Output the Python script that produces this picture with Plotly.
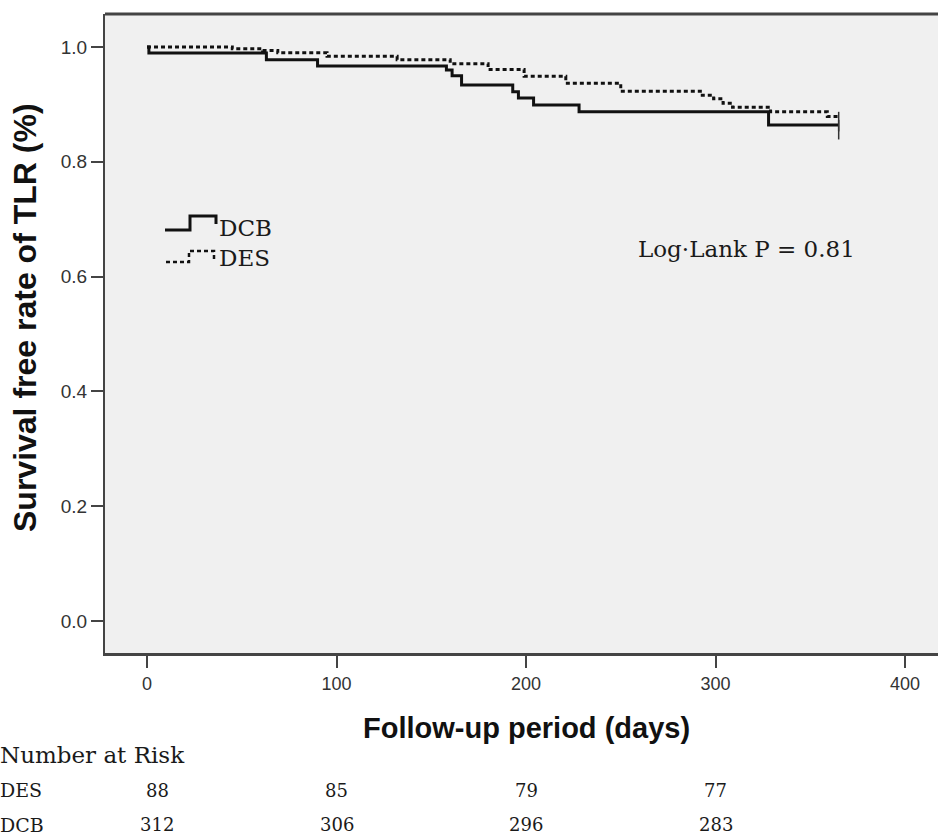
import plotly.graph_objects as go

# ---------------- data ----------------
dcb_days = [0, 1, 63, 90, 158, 161, 166, 193, 196, 204, 228, 328, 365]
dcb_surv = [1.000, 0.9895, 0.978, 0.967, 0.960, 0.950, 0.934, 0.922, 0.911, 0.899, 0.887, 0.864, 0.864]

des_days = [0, 45, 61, 69, 95, 132, 160, 180, 199, 221, 250, 292, 299, 304, 309, 329, 359, 365]
des_surv = [1.000, 0.997, 0.994, 0.990, 0.984, 0.978, 0.971, 0.961, 0.949, 0.937, 0.923, 0.916,
            0.910, 0.902, 0.895, 0.887, 0.879, 0.876]

risk_days = [0, 100, 200, 300]
risk_des = [88, 85, 79, 77]
risk_dcb = [312, 306, 296, 283]

x_ticks = [0, 100, 200, 300, 400]
y_ticks = [0.0, 0.2, 0.4, 0.6, 0.8, 1.0]

# ---------------- layout helpers (pixel -> paper) ----------------
W, H = 938, 837
L, R, T, B = 105, 0, 14, 184
PW, PH = W - L - R, H - T - B


def px(x):
    return (x - L) / PW


def py(y):
    return (H - B - y) / PH


SERIF = "DejaVu Serif"
SANS = "Liberation Sans, Arial, sans-serif"

fig = go.Figure()

fig.add_trace(go.Scatter(
    x=dcb_days, y=dcb_surv, mode="lines", line=dict(shape="hv", color="#111111", width=3),
    name="DCB", showlegend=False))
fig.add_trace(go.Scatter(
    x=des_days, y=des_surv, mode="lines", line=dict(shape="hv", color="#111111", width=3, dash="4px,3px"),
    name="DES", showlegend=False))
# censor marks at the end of follow-up
fig.add_trace(go.Scatter(
    x=[dcb_days[-1], des_days[-1]], y=[dcb_surv[-1] - 0.008, des_surv[-1] - 0.006], mode="markers",
    marker=dict(symbol="line-ns-open", size=14, color="#333333", line=dict(color="#333333", width=1.5)),
    showlegend=False, hoverinfo="skip"))

shapes = []
# top frame line
shapes.append(dict(type="line", xref="paper", yref="paper", x0=0, x1=1, y0=1, y1=1,
                   line=dict(color="#444444", width=3)))
# legend glyphs (step shapes)
shapes.append(dict(type="path", xref="paper", yref="paper",
                   path=f"M {px(165)} {py(230)} L {px(190)} {py(230)} L {px(190)} {py(216)} "
                        f"L {px(216)} {py(216)} L {px(216)} {py(224)}",
                   line=dict(color="#111111", width=3)))
shapes.append(dict(type="path", xref="paper", yref="paper",
                   path=f"M {px(166)} {py(262)} L {px(189)} {py(262)} L {px(189)} {py(251)} "
                        f"L {px(214)} {py(251)} L {px(214)} {py(261)}",
                   line=dict(color="#111111", width=2.5, dash="4px,3px")))

TXT = "#1a1a1a"
ann = []
ann.append(dict(text="DCB", xref="paper", yref="paper", x=px(217), y=py(228), xanchor="left",
                yanchor="middle", showarrow=False, font=dict(family=SERIF, size=23, color=TXT)))
ann.append(dict(text="DES", xref="paper", yref="paper", x=px(217), y=py(258), xanchor="left",
                yanchor="middle", showarrow=False, font=dict(family=SERIF, size=23, color=TXT)))
ann.append(dict(text="Log·Lank P = 0.81", xref="paper", yref="paper", x=px(636), y=py(249),
                xanchor="left", yanchor="middle", showarrow=False,
                font=dict(family=SERIF, size=23, color=TXT)))
# axis titles
ann.append(dict(text="Follow-up period (days)", xref="paper", yref="paper", x=px(526), y=py(728),
                xanchor="center", yanchor="middle", showarrow=False,
                font=dict(family=SANS, size=29, color="#111111", weight="bold")))
ann.append(dict(text="Survival free rate of TLR (%)", xref="paper", yref="paper", x=px(25), y=py(318),
                xanchor="center", yanchor="middle", showarrow=False, textangle=-90,
                font=dict(family=SANS, size=32, color="#111111", weight="bold")))
# number at risk table
ann.append(dict(text="Number at Risk", xref="paper", yref="paper", x=px(-2), y=py(755),
                xanchor="left", yanchor="middle", showarrow=False,
                font=dict(family=SERIF, size=23, color=TXT)))
for label, vals, ypix in (("DES", risk_des, 790), ("DCB", risk_dcb, 825)):
    ann.append(dict(text=label, xref="paper", yref="paper", x=px(-1), y=py(ypix),
                    xanchor="left", yanchor="middle", showarrow=False, borderpad=0,
                    font=dict(family=SERIF, size=19, color=TXT)))
    for d, v in zip(risk_days, vals):
        ann.append(dict(text=str(v), xref="x", yref="paper", x=d, y=py(ypix),
                        xanchor="center", yanchor="middle", showarrow=False, borderpad=0,
                        xshift=(10 if d == 0 else 0),
                        font=dict(family=SERIF, size=18, color=TXT)))

x_range = [(L - 147) / 1.895, (W - 147) / 1.895]
y_range = [(621 - (H - B)) / 574, (621 - T) / 574]

fig.update_layout(
    width=W, height=H,
    margin=dict(l=L, r=R, t=T, b=B),
    paper_bgcolor="white", plot_bgcolor="#f0f0f0",
    showlegend=False,
    shapes=shapes, annotations=ann,
    xaxis=dict(range=x_range, tickvals=x_ticks, ticks="outside", ticklen=12, tickwidth=2,
               tickcolor="#444444", showline=True, linecolor="#444444", linewidth=3,
               showgrid=False, zeroline=False, tickfont=dict(family=SANS, size=18, color="#333333")),
    yaxis=dict(range=y_range, tickvals=y_ticks, tickformat=".1f", ticks="outside", ticklen=12,
               tickwidth=2, tickcolor="#444444", showline=True, linecolor="#444444", linewidth=2,
               showgrid=False, zeroline=False, tickfont=dict(family=SANS, size=19, color="#333333")),
)

fig.write_html("out.html", config={"displayModeBar": False},
               post_script="document.body.style.margin='0';document.body.style.overflow='hidden';")
